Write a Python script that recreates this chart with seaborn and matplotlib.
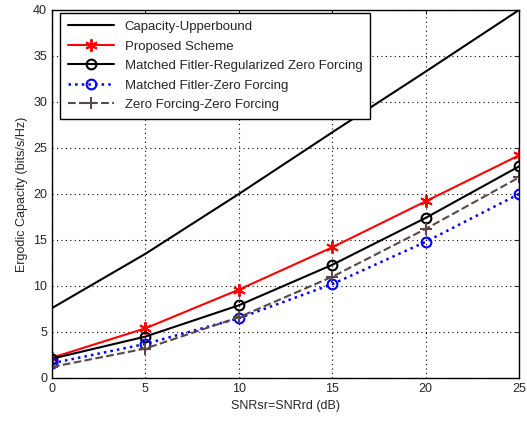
import numpy as np
import pandas as pd
import matplotlib
matplotlib.use("Agg")
import matplotlib.pyplot as plt
import seaborn as sns

# Datos
snr = [0, 5, 10, 15, 20, 25]
cota_capacidad = [7.6, 13.5, 20.0, 26.7, 33.3, 40.0]
esquema_propuesto = [2.2, 5.4, 9.6, 14.2, 19.2, 24.2]
mf_rzf = [2.1, 4.5, 7.9, 12.3, 17.4, 23.0]
mf_zf = [1.6, 3.7, 6.5, 10.2, 14.8, 20.0]
zf_zf = [1.2, 3.2, 6.6, 11.0, 16.2, 21.8]

nombres = ["Capacity-Upperbound", "Proposed Scheme",
           "Matched Fitler-Regularized Zero Forcing",
           "Matched Fitler-Zero Forcing", "Zero Forcing-Zero Forcing"]

sns.set_style("white")
plt.rcParams['font.family'] = ['Liberation Sans', 'DejaVu Sans']
plt.rcParams['font.size'] = 9

fig = plt.figure(figsize=(5.27, 4.22), dpi=100)
ax = fig.add_axes([52 / 527, 1 - 378 / 422, 467 / 527, 368 / 422])

estilos = [
    dict(color="black", linestyle="-", marker=None),
    dict(color="red", linestyle="-", marker=(6, 2, 0), markersize=9, mec="red", mew=1.4),
    dict(color="black", linestyle="-", marker="o", markersize=7, mfc="none", mec="black", mew=1.5),
    dict(color="blue", linestyle=":", marker="o", markersize=7, mfc="none", mec="blue", mew=1.5),
    dict(color="#5c4646", linestyle="--", marker="+", markersize=9, mec="#5c4646", mew=1.5),
]
series = [cota_capacidad, esquema_propuesto, mf_rzf, mf_zf, zf_zf]
for nombre, valores, est in zip(nombres, series, estilos):
    df = pd.DataFrame({"snr": snr, "cap": valores})
    sns.lineplot(data=df, x="snr", y="cap", ax=ax, label=nombre,
                 linewidth=1.5 if est["linestyle"] != ":" else 1.8, **est)

ax.set_xlim(0, 25)
ax.set_ylim(0, 40)
ax.set_xticks(range(0, 26, 5))
ax.set_yticks(range(0, 41, 5))
ax.grid(True, color="black", linestyle=(0, (1, 3)), linewidth=0.8)
ax.tick_params(direction="in", length=3, top=True, right=True, labelsize=9)
for s in ax.spines.values():
    s.set_linewidth(1.0)
    s.set_color("black")
ax.set_xlabel("SNRsr=SNRrd (dB)", fontsize=9)
ax.set_ylabel("Ergodic Capacity (bits/s/Hz)", fontsize=9)

leg = ax.legend(loc="upper left", fontsize=9.5, fancybox=False, framealpha=1,
                edgecolor="black", handlelength=3.5, borderpad=0.6,
                labelspacing=0.55, borderaxespad=0,
                bbox_to_anchor=(0.017, 0.992))
leg.get_frame().set_linewidth(1.0)

fig.savefig("out.png", dpi=100)
